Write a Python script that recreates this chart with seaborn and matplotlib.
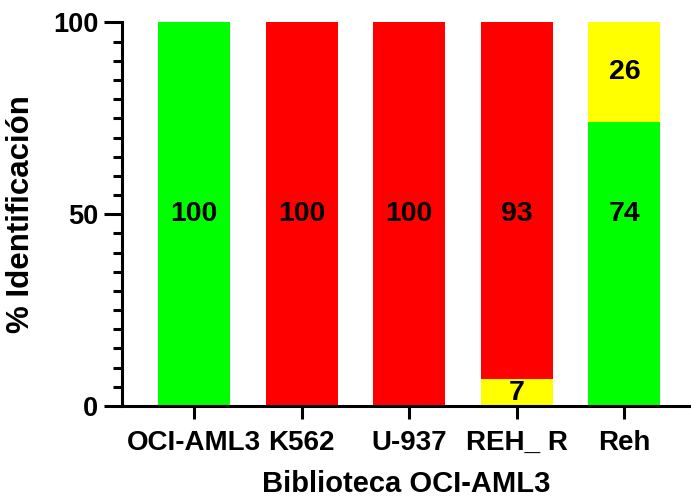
import matplotlib
matplotlib.use("Agg")
import matplotlib.pyplot as plt
import seaborn as sns
from matplotlib.ticker import MultipleLocator

categories = ["OCI-AML3", "K562", "U-937", "REH_ R", "Reh"]
lower_vals = [100, 100, 100, 7, 74]
upper_vals = [0, 0, 0, 93, 26]

GREEN, RED, YELLOW = "#00FF00", "#FF0000", "#FFFF00"
lower_colors = [GREEN, RED, RED, YELLOW, GREEN]
upper_colors = [GREEN, RED, RED, RED, YELLOW]

xlabel = "Biblioteca OCI-AML3"
ylabel = "% Identificación"

sns.set_style("ticks")
plt.rcParams["font.family"] = ["Liberation Sans", "DejaVu Sans"]
plt.rcParams["font.weight"] = "bold"
plt.rcParams["text.color"] = "black"
plt.rcParams["axes.labelcolor"] = "black"
plt.rcParams["xtick.color"] = "black"
plt.rcParams["ytick.color"] = "black"

fig = plt.figure(figsize=(6.91, 5.0), dpi=100)
ax = fig.add_axes([0.1766, 0.188, 0.8234, 0.767])

totals = [a + b for a, b in zip(lower_vals, upper_vals)]
sns.barplot(x=categories, y=totals, hue=categories, palette=upper_colors,
            width=0.67, saturation=1, legend=False, ax=ax, linewidth=0)
sns.barplot(x=categories, y=lower_vals, hue=categories, palette=lower_colors,
            width=0.67, saturation=1, legend=False, ax=ax, linewidth=0)

# value labels
for i, (lo, up) in enumerate(zip(lower_vals, upper_vals)):
    for bot, val in ((0, lo), (lo, up)):
        if val <= 0:
            continue
        top = bot + val
        y = 50 if bot <= 50 <= top else bot + val / 2
        ax.text(i, y, f"{val}", ha="center", va="center", fontsize=20.5,
                fontweight="bold", color="black")

ax.set_xlim(-0.67, 4.62)
ax.set_ylim(0, 100)
ax.yaxis.set_major_locator(MultipleLocator(50))
ax.yaxis.set_minor_locator(MultipleLocator(5))

sns.despine(ax=ax)
for s in ("left", "bottom"):
    ax.spines[s].set_linewidth(2.2)
    ax.spines[s].set_color("black")

ax.tick_params(axis="y", which="major", length=13, width=2.2, labelsize=19.5,
               pad=4, colors="black")
ax.tick_params(axis="y", which="minor", length=6.5, width=2.2, colors="black")
ax.tick_params(axis="x", which="major", length=9.5, width=2.2, labelsize=20,
               pad=8, colors="black")
for lab in ax.get_xticklabels() + ax.get_yticklabels():
    lab.set_fontweight("bold")

ax.set_xlabel(xlabel, fontsize=21, fontweight="bold", labelpad=10, color="black")
ax.set_ylabel(ylabel, fontsize=22.5, fontweight="bold", labelpad=12, color="black")

fig.savefig("out.png", dpi=100)
